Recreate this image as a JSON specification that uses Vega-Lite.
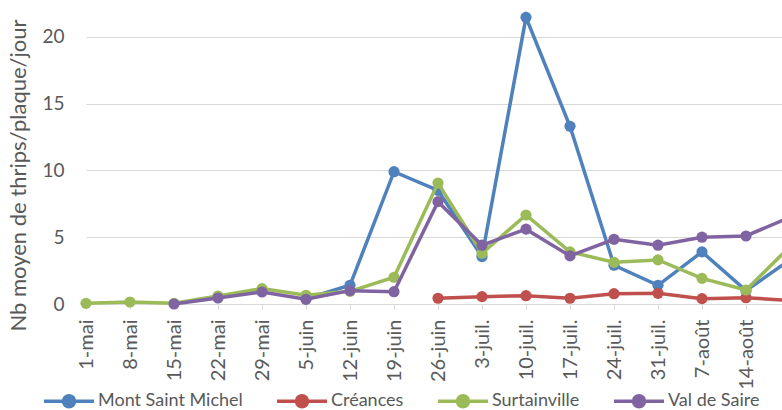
{
  "$schema": "https://vega.github.io/schema/vega-lite/v6.json",
  "autosize": {"type": "none"},
  "padding": {"left": 82, "top": 10, "right": 0, "bottom": 106},
  "width": 700,
  "height": 294,
  "background": "white",
  "config": {
    "font": "Lato",
    "view": {"stroke": null},
    "axis": {"labelColor": "#595959", "titleColor": "#595959", "labelFont": "Lato", "titleFont": "Lato"},
    "legend": {"labelFont": "Lato", "labelColor": "#595959"}
  },
  "data": {"values": [
    {"d": "5-juin", "s": "Mont Saint Michel", "v": 0.4},
    {"d": "12-juin", "s": "Mont Saint Michel", "v": 1.4},
    {"d": "19-juin", "s": "Mont Saint Michel", "v": 9.9},
    {"d": "26-juin", "s": "Mont Saint Michel", "v": 8.5},
    {"d": "3-juil.", "s": "Mont Saint Michel", "v": 3.55},
    {"d": "10-juil.", "s": "Mont Saint Michel", "v": 21.45},
    {"d": "17-juil.", "s": "Mont Saint Michel", "v": 13.3},
    {"d": "24-juil.", "s": "Mont Saint Michel", "v": 2.9},
    {"d": "31-juil.", "s": "Mont Saint Michel", "v": 1.4},
    {"d": "7-août", "s": "Mont Saint Michel", "v": 3.9},
    {"d": "14-août", "s": "Mont Saint Michel", "v": 1.0},
    {"d": "21-août", "s": "Mont Saint Michel", "v": 3.3},
    {"d": "26-juin", "s": "Créances", "v": 0.43},
    {"d": "3-juil.", "s": "Créances", "v": 0.55},
    {"d": "10-juil.", "s": "Créances", "v": 0.62},
    {"d": "17-juil.", "s": "Créances", "v": 0.43},
    {"d": "24-juil.", "s": "Créances", "v": 0.77},
    {"d": "31-juil.", "s": "Créances", "v": 0.8},
    {"d": "7-août", "s": "Créances", "v": 0.4},
    {"d": "14-août", "s": "Créances", "v": 0.47},
    {"d": "21-août", "s": "Créances", "v": 0.27},
    {"d": "1-mai", "s": "Surtainville", "v": 0.05},
    {"d": "8-mai", "s": "Surtainville", "v": 0.15},
    {"d": "15-mai", "s": "Surtainville", "v": 0.05},
    {"d": "22-mai", "s": "Surtainville", "v": 0.6},
    {"d": "29-mai", "s": "Surtainville", "v": 1.15},
    {"d": "5-juin", "s": "Surtainville", "v": 0.65},
    {"d": "12-juin", "s": "Surtainville", "v": 0.95},
    {"d": "19-juin", "s": "Surtainville", "v": 2.0},
    {"d": "26-juin", "s": "Surtainville", "v": 9.05},
    {"d": "3-juil.", "s": "Surtainville", "v": 3.8},
    {"d": "10-juil.", "s": "Surtainville", "v": 6.66},
    {"d": "17-juil.", "s": "Surtainville", "v": 3.9},
    {"d": "24-juil.", "s": "Surtainville", "v": 3.12},
    {"d": "31-juil.", "s": "Surtainville", "v": 3.3},
    {"d": "7-août", "s": "Surtainville", "v": 1.92},
    {"d": "14-août", "s": "Surtainville", "v": 1.05},
    {"d": "21-août", "s": "Surtainville", "v": 4.3},
    {"d": "15-mai", "s": "Val de Saire", "v": 0.0},
    {"d": "22-mai", "s": "Val de Saire", "v": 0.45},
    {"d": "29-mai", "s": "Val de Saire", "v": 0.9},
    {"d": "5-juin", "s": "Val de Saire", "v": 0.35},
    {"d": "12-juin", "s": "Val de Saire", "v": 1.0},
    {"d": "19-juin", "s": "Val de Saire", "v": 0.92},
    {"d": "26-juin", "s": "Val de Saire", "v": 7.66},
    {"d": "3-juil.", "s": "Val de Saire", "v": 4.4},
    {"d": "10-juil.", "s": "Val de Saire", "v": 5.6},
    {"d": "17-juil.", "s": "Val de Saire", "v": 3.6},
    {"d": "24-juil.", "s": "Val de Saire", "v": 4.84},
    {"d": "31-juil.", "s": "Val de Saire", "v": 4.4},
    {"d": "7-août", "s": "Val de Saire", "v": 5.0},
    {"d": "14-août", "s": "Val de Saire", "v": 5.09},
    {"d": "21-août", "s": "Val de Saire", "v": 6.5}
  ]},
  "encoding": {
    "x": {
      "field": "d", "type": "ordinal",
      "scale": {"type": "point", "domain": ["1-mai","8-mai","15-mai","22-mai","29-mai","5-juin","12-juin","19-juin","26-juin","3-juil.","10-juil.","17-juil.","24-juil.","31-juil.","7-août","14-août","21-août"], "range": [4, 708], "padding": 0},
      "axis": {"title": null, "values": ["1-mai","8-mai","15-mai","22-mai","29-mai","5-juin","12-juin","19-juin","26-juin","3-juil.","10-juil.","17-juil.","24-juil.","31-juil.","7-août","14-août"], "labelAngle": -90, "labelFontSize": 20, "labelPadding": 10, "tickSize": 5, "tickColor": "#D9D9D9", "domainColor": "#D9D9D9", "domainWidth": 1, "grid": false}
    },
    "y": {
      "field": "v", "type": "quantitative",
      "scale": {"domain": [0, 22], "nice": false},
      "axis": {"title": "Nb moyen de thrips/plaque/jour", "values": [0, 5, 10, 15, 20], "grid": true, "gridColor": "#D9D9D9", "domain": false, "ticks": false, "labelFontSize": 19, "labelPadding": 18, "titleFontSize": 22, "titleFontWeight": "normal", "titleX": -64, "titleY": 165, "titleAlign": "center", "titleBaseline": "middle", "titleAngle": -90}
    },
    "color": {
      "field": "s", "type": "nominal",
      "scale": {"domain": ["Mont Saint Michel", "Créances", "Surtainville", "Val de Saire"], "range": ["#4F81BD", "#C0504D", "#9BBB59", "#8064A2"]},
      "legend": {
        "title": null, "orient": "none", "direction": "horizontal", "columns": 4,
        "legendX": -40, "legendY": 364,
        "labelFontSize": 18, "labelOffset": 2, "columnPadding": 27,
        "symbolType": "M-1,0H1M0.22,0A0.22,0.22,0,1,1,-0.22,0A0.22,0.22,0,1,1,0.22,0Z",
        "symbolSize": 2500, "symbolStrokeWidth": 3.5,
        "encode": {"symbols": {"update": {"fill": {"scale": "color", "field": "value"}, "stroke": {"scale": "color", "field": "value"}, "opacity": {"value": 1}}}}
      }
    }
  },
  "layer": [
    {"transform": [{"filter": "datum.s === 'Mont Saint Michel'"}], "mark": {"type": "line", "strokeWidth": 3.5, "point": {"filled": true, "size": 125, "opacity": 1}}},
    {"transform": [{"filter": "datum.s === 'Créances'"}], "mark": {"type": "line", "strokeWidth": 3.5, "point": {"filled": true, "size": 125, "opacity": 1}}},
    {"transform": [{"filter": "datum.s === 'Surtainville'"}], "mark": {"type": "line", "strokeWidth": 3.5, "point": {"filled": true, "size": 125, "opacity": 1}}},
    {"transform": [{"filter": "datum.s === 'Val de Saire'"}], "mark": {"type": "line", "strokeWidth": 3.5, "point": {"filled": true, "size": 125, "opacity": 1}}}
  ]
}
